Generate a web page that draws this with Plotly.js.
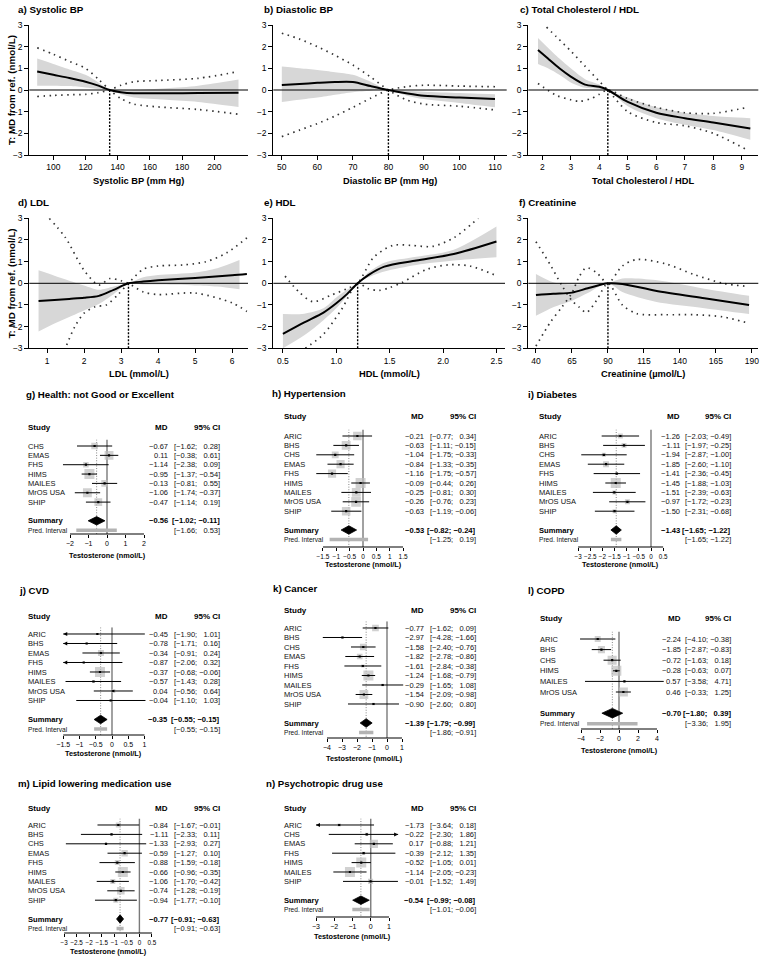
<!DOCTYPE html>
<html>
<head>
<meta charset="utf-8">
<script src="https://cdn.plot.ly/plotly-3.0.1.min.js"></script>
<style>
  body { margin: 0; background: #fff; }
  #grafico { width: 763px; height: 960px; }
</style>
</head>
<body>
<div id="grafico"></div>
<script>
// ---- curvas (a-f): ajuste, banda de confianza y banda de prediccion ----
const sbpX = [90, 100, 110, 120, 128, 135, 142, 150, 170, 190, 215];
const sbpFit = [0.85, 0.7, 0.55, 0.38, 0.2, 0, -0.1, -0.15, -0.15, -0.14, -0.13];
const sbpHi = [1.45, 1.2, 0.95, 0.7, 0.35, 0, -0.02, 0.0, 0.08, 0.2, 0.48];
const sbpLo = [0.2, 0.2, 0.18, 0.12, 0.05, 0, -0.2, -0.35, -0.45, -0.55, -0.78];
const sbpPiX = [90, 100, 110, 120, 128, 135, 142, 150, 165, 190, 215];
const sbpPiA = [1.95, 1.65, 1.32, 1.0, 0.5, 0, -0.4, -0.65, -0.78, -0.9, -1.12];
const sbpPiB = [-0.3, -0.25, -0.22, -0.2, -0.12, 0, 0.22, 0.38, 0.44, 0.54, 0.85];

const dbpX = [50, 55, 60, 65, 70, 75, 80, 85, 90, 100, 110];
const dbpFit = [0.23, 0.28, 0.33, 0.37, 0.37, 0.18, 0, -0.15, -0.27, -0.35, -0.42];
const dbpHi = [1.08, 1.0, 0.92, 0.82, 0.7, 0.38, 0, -0.03, -0.08, -0.14, -0.2];
const dbpLo = [-0.55, -0.45, -0.35, -0.22, -0.1, -0.03, 0, -0.25, -0.42, -0.6, -0.8];
const dbpPiA = [2.62, 2.35, 2.0, 1.6, 1.15, 0.6, 0, -0.45, -0.65, -0.75, -0.92];
const dbpPiB = [-2.15, -1.85, -1.55, -1.2, -0.8, -0.38, 0, 0.15, 0.22, 0.18, 0.15];

const tcX = [1.85, 2.2, 2.6, 3.0, 3.5, 4.0, 4.3, 5.0, 6.0, 7.0, 8.0, 9.3];
const tcFit = [1.85, 1.45, 1.0, 0.62, 0.25, 0.15, 0, -0.55, -1.05, -1.3, -1.5, -1.78];
const tcHi = [2.4, 1.95, 1.45, 1.0, 0.5, 0.25, 0, -0.35, -0.8, -1.05, -1.2, -1.3];
const tcLo = [1.2, 1.0, 0.7, 0.35, 0.1, 0.05, 0, -0.75, -1.3, -1.6, -1.85, -2.3];
const tcPiAX = [2.15, 2.5, 3.0, 3.5, 4.0, 4.3, 5.0, 6.0, 7.0, 8.0, 9.2];
const tcPiA = [2.9, 2.45, 1.8, 1.1, 0.4, 0, -1.0, -1.5, -1.65, -2.0, -2.77];
const tcPiBX = [1.85, 2.5, 3.0, 3.3, 3.7, 4.0, 4.3, 5.0, 6.0, 7.0, 8.0, 9.2];
const tcPiB = [0.3, -0.25, -0.45, -0.52, -0.4, -0.2, 0, -0.4, -0.8, -1.05, -1.08, -0.8];

const ldlX = [0.77, 1.2, 1.6, 2.0, 2.4, 2.8, 3.2, 3.6, 4.0, 5.0, 6.0, 6.4];
const ldlFit = [-0.82, -0.77, -0.72, -0.67, -0.58, -0.3, 0, 0.08, 0.14, 0.25, 0.37, 0.43];
const ldlBandX = [0.77, 1.2, 1.6, 2.0, 2.4, 2.8, 3.2, 3.6, 4.0, 5.0, 5.6, 6.2];
const ldlHi = [0.6, 0.35, 0.12, -0.1, -0.3, -0.15, 0, 0.28, 0.38, 0.5, 0.7, 1.08];
const ldlLo = [-2.22, -1.85, -1.55, -1.25, -0.95, -0.5, 0, -0.05, -0.06, -0.1, -0.15, -0.27];
const ldlPiAX = [1.06, 1.5, 2.0, 2.4, 2.7, 3.0, 3.2, 3.6, 4.0, 5.0, 6.0, 6.4];
const ldlPiA = [3.0, 2.1, 0.6, -0.08, 0.22, 0.12, 0, -0.4, -0.52, -0.45, -0.9, -1.3];
const ldlPiBX = [1.53, 1.75, 2.0, 2.3, 2.6, 2.93, 3.2, 3.6, 4.0, 4.7, 5.3, 5.85, 6.4];
const ldlPiB = [-2.85, -2.0, -1.38, -1.08, -1.0, -0.5, 0, 0.65, 0.8, 0.85, 1.0, 1.4, 2.1];

const hdlX = [0.5, 0.7, 0.88, 1.0, 1.1, 1.2, 1.3, 1.45, 1.75, 2.1, 2.5];
const hdlFit = [-2.33, -1.8, -1.35, -0.92, -0.5, 0, 0.38, 0.77, 1.05, 1.35, 1.93];
const hdlHi = [-1.42, -1.4, -1.15, -0.65, -0.3, 0, 0.5, 0.95, 1.22, 1.55, 2.62];
const hdlLo = [-3.0, -2.4, -1.7, -1.15, -0.6, 0, 0.28, 0.55, 0.85, 1.05, 1.2];
const hdlPiAX = [0.52, 0.65, 0.78, 0.95, 1.1, 1.2, 1.35, 1.53, 1.7, 1.9, 2.1, 2.33];
const hdlPiA = [0.33, -0.4, -0.85, -0.55, -0.25, 0, 1.2, 1.75, 1.75, 1.7, 2.1, 3.0];
const hdlPiBX = [0.71, 0.88, 1.05, 1.2, 1.3, 1.4, 1.5, 1.62, 1.85, 2.05, 2.25, 2.5];
const hdlPiB = [-3.0, -2.35, -1.2, 0, -0.25, -0.33, -0.2, 0.05, 0.65, 0.85, 0.8, 0.35];

const crX = [40, 52, 65, 76, 90, 100, 123, 157, 188];
const crFit = [-0.54, -0.48, -0.43, -0.23, 0, -0.03, -0.34, -0.69, -1.0];
const crHi = [0.43, 0.05, -0.05, -0.03, 0, 0.22, 0.15, -0.25, -0.58];
const crLo = [-1.5, -1.1, -0.8, -0.45, 0, -0.4, -0.85, -1.15, -1.42];
const crPiX = [40, 50, 58, 65, 70, 75, 82, 90, 100, 110, 130, 150, 170, 188];
const crPiA = [1.92, 0.85, -0.1, -0.8, -1.1, -1.35, -0.8, 0, -1.0, -1.4, -1.45, -1.45, -1.55, -1.85];
const crPiB = [-2.9, -1.8, -1.1, -0.45, 0.3, 0.72, 0.5, 0, 0.8, 1.1, 0.9, 0.4, 0.0, -0.15];

// ---- forest plots (g-n) ----
const estG = ['CHS', 'EMAS', 'FHS', 'HIMS', 'MAILES', 'MrOS USA', 'SHIP'];
const mdG = [-0.67, 0.11, -1.14, -0.95, -0.13, -1.06, -0.47];
const loG = [-1.62, -0.38, -2.38, -1.37, -0.81, -1.74, -1.14];
const hiG = [0.28, 0.61, 0.09, -0.54, 0.55, -0.37, 0.19];
const wG = [10, 18, 7, 23, 10, 18, 14];
const sumG = [-0.56, -1.02, -0.11];
const predG = [-1.66, 0.53];

const estH = ['ARIC', 'BHS', 'CHS', 'EMAS', 'FHS', 'HIMS', 'MAILES', 'MrOS USA', 'SHIP'];
const mdH = [-0.21, -0.63, -1.04, -0.84, -1.16, -0.09, -0.25, -0.26, -0.63];
const loH = [-0.77, -1.11, -1.75, -1.33, -1.75, -0.44, -0.81, -0.76, -1.19];
const hiH = [0.34, -0.15, -0.33, -0.35, -0.57, 0.26, 0.30, 0.23, -0.06];
const wH = [11, 12, 7, 10, 10, 15, 12, 14, 11];
const sumH = [-0.53, -0.82, -0.24];
const predH = [-1.25, 0.19];

const estI = ['ARIC', 'BHS', 'CHS', 'EMAS', 'FHS', 'HIMS', 'MAILES', 'MrOS USA', 'SHIP'];
const mdI = [-1.26, -1.11, -1.94, -1.85, -1.41, -1.45, -1.51, -0.97, -1.50];
const loI = [-2.03, -1.97, -2.87, -2.60, -2.36, -1.88, -2.39, -1.72, -2.31];
const hiI = [-0.49, -0.25, -1.00, -1.10, -0.45, -1.03, -0.63, -0.23, -0.68];
const wI = [9, 9, 6, 13, 3, 37, 6, 9, 6];
const sumI = [-1.43, -1.65, -1.22];
const predI = [-1.65, -1.22];

const estJ = ['ARIC', 'BHS', 'EMAS', 'FHS', 'HIMS', 'MAILES', 'MrOS USA', 'SHIP'];
const mdJ = [-0.45, -0.78, -0.34, -0.87, -0.37, -0.57, 0.04, -0.04];
const loJ = [-1.90, -1.71, -0.91, -2.06, -0.68, -1.43, -0.56, -1.10];
const hiJ = [1.01, 0.16, 0.24, 0.32, -0.06, 0.28, 0.64, 1.03];
const wJ = [2, 2, 20, 2, 56, 5, 9, 2];
const sumJ = [-0.35, -0.55, -0.15];
const predJ = [-0.55, -0.15];

const estK = ['ARIC', 'BHS', 'CHS', 'EMAS', 'FHS', 'HIMS', 'MAILES', 'MrOS USA', 'SHIP'];
const mdK = [-0.77, -2.97, -1.58, -1.82, -1.61, -1.24, -0.29, -1.54, -0.90];
const loK = [-1.62, -4.28, -2.40, -2.78, -2.84, -1.68, -1.65, -2.09, -2.60];
const hiK = [0.09, -1.66, -0.76, -0.86, -0.38, -0.79, 1.08, -0.98, 0.80];
const wK = [14, 2, 14, 10, 3, 31, 2, 24, 2];
const sumK = [-1.39, -1.79, -0.99];
const predK = [-1.86, -0.91];

const estL = ['ARIC', 'BHS', 'CHS', 'HIMS', 'MAILES', 'MrOS USA'];
const mdL = [-2.24, -1.85, -0.72, -0.28, 0.57, 0.46];
const loL = [-4.10, -2.87, -1.63, -0.63, -3.58, -0.33];
const hiL = [-0.38, -0.83, 0.18, 0.07, 4.71, 1.25];
const wL = [10, 14, 23, 28, 1, 23];
const sumL = [-0.70, -1.80, 0.39];
const predL = [-3.36, 1.95];

const estM = ['ARIC', 'BHS', 'CHS', 'EMAS', 'FHS', 'HIMS', 'MAILES', 'MrOS USA', 'SHIP'];
const mdM = [-0.84, -1.11, -1.33, -0.59, -0.88, -0.66, -1.06, -0.74, -0.94];
const loM = [-1.67, -2.33, -2.93, -1.27, -1.59, -0.96, -1.70, -1.28, -1.77];
const hiM = [-0.01, 0.11, 0.27, 0.10, -0.18, -0.35, -0.42, -0.19, -0.10];
const wM = [8, 2, 2, 13, 8, 32, 8, 18, 8];
const sumM = [-0.77, -0.91, -0.63];
const predM = [-0.91, -0.63];

const estN = ['ARIC', 'CHS', 'EMAS', 'FHS', 'HIMS', 'MAILES', 'SHIP'];
const mdN = [-1.73, -0.22, 0.17, -0.39, -0.52, -1.14, -0.01];
const loN = [-3.64, -2.30, -0.88, -2.12, -1.05, -2.05, -1.52];
const hiN = [0.18, 1.86, 1.21, 1.35, 0.01, -0.23, 1.49];
const wN = [3, 3, 21, 3, 31, 31, 8];
const sumN = [-0.54, -0.99, -0.08];
const predN = [-1.01, -0.06];

// ---- ayudas ----
const W = 763, H = 960;
const FUENTE = 'Liberation Sans, Arial, Helvetica, sans-serif';
const px = v => v / W;
const py = v => 1 - v / H;
const menos = v => (v < 0 ? '\u2212' : '') + Math.abs(v).toFixed(2);

let trazos = [];
let layout = {
  width: W, height: H,
  margin: { l: 0, r: 0, t: 0, b: 0 },
  showlegend: false,
  paper_bgcolor: '#fff',
  plot_bgcolor: 'rgba(0,0,0,0)',
  font: { family: FUENTE, color: '#000' },
  annotations: [],
  shapes: []
};

function texto(t, x, y, opts) {
  layout.annotations.push(Object.assign({
    text: t, x: x, y: y, xref: 'paper', yref: 'paper',
    showarrow: false, xanchor: 'left', yanchor: 'middle', borderpad: 0,
    font: { size: 8, family: FUENTE, color: '#000' }
  }, opts || {}));
}

// panel de curva
function panelCurva(k, p) {
  const xa = 'x' + k, ya = 'y' + k;
  const suave = { shape: 'spline', smoothing: 0.8 };
  trazos.push({ x: p.bx, y: p.lo, xaxis: xa, yaxis: ya, mode: 'lines',
    line: Object.assign({ width: 0, color: 'rgba(0,0,0,0)' }, suave), hoverinfo: 'skip' });
  trazos.push({ x: p.bx, y: p.hi, xaxis: xa, yaxis: ya, mode: 'lines', fill: 'tonexty',
    fillcolor: '#d7d7d7', line: Object.assign({ width: 0, color: 'rgba(0,0,0,0)' }, suave), hoverinfo: 'skip' });
  [[p.pax, p.pa], [p.pbx, p.pb]].forEach(par => {
    trazos.push({ x: par[0], y: par[1], xaxis: xa, yaxis: ya, mode: 'lines',
      line: Object.assign({ width: 1.7, color: '#333', dash: '1.5px,4.5px' }, suave) });
  });
  trazos.push({ x: p.x, y: p.fit, xaxis: xa, yaxis: ya, mode: 'lines',
    line: Object.assign({ width: 2, color: '#000' }, suave) });

  // linea cero y linea de referencia
  layout.shapes.push({ type: 'line', xref: xa + ' domain', yref: ya, x0: 0, x1: 1, y0: 0, y1: 0,
    line: { color: '#000', width: 1 }, layer: 'above' });
  layout.shapes.push({ type: 'line', xref: xa, yref: ya, x0: p.ref, x1: p.ref, y0: -3, y1: 0,
    line: { color: '#000', width: 1.4, dash: '2px,1.5px' }, layer: 'above' });

  const eje = {
    showline: true, linecolor: '#000', linewidth: 1, ticks: 'outside', ticklen: 4, tickwidth: 1,
    tickcolor: '#000', showgrid: false, zeroline: false, tickangle: 0,
    tickfont: { size: 8.5, family: FUENTE }
  };
  layout['xaxis' + k] = Object.assign({}, eje, {
    domain: [px(p.x0), px(p.x1)], range: p.range, tickvals: p.ticks, anchor: ya,
    tickformat: p.fmt || ''
  });
  layout['yaxis' + k] = Object.assign({}, eje, {
    domain: [py(p.yBot), py(p.yTop)], range: [-3, 3], tickvals: [-3, -2, -1, 0, 1, 2, 3], anchor: xa
  });
  texto('<b>' + p.title + '</b>', px(p.tx), py(p.ty), { font: { size: 9.8, family: FUENTE } });
  texto('<b>' + p.xtitle + '</b>', px((p.x0 + p.x1) / 2), py(p.yBot + 26),
    { xanchor: 'center', font: { size: 9.3, family: FUENTE } });
  if (p.ytitle) {
    texto('<b>T: MD from ref. (nmol/L)</b>', px(11), py((p.yTop + p.yBot) / 2),
      { xanchor: 'center', textangle: -90, font: { size: 9.8, family: FUENTE } });
  }
}

// panel forest
function panelForest(k, f) {
  const xa = 'x' + k, ya = 'y' + k;
  const n = f.est.length;
  const filaSum = n + 1, filaPred = n + 2;
  const filaTop = -0.7;
  const filaBot = (f.axisY - f.row0) / f.rowH;
  const cLo = f.clip ? f.clip[0] : -Infinity, cHi = f.clip ? f.clip[1] : Infinity;
  const los = f.lo.map(v => Math.max(v, cLo));
  const his = f.hi.map(v => Math.min(v, cHi));
  const pad = 5 / f.ppu;
  const xmin = Math.min(f.ticks[0], ...los, f.pred[0], f.sum[1]) - pad;
  const xmax = Math.max(f.ticks[f.ticks.length - 1], ...his, f.pred[1], f.sum[2]) + pad;
  const filas = f.est.map((_, i) => i);
  const wmax = Math.max(...f.w);

  // linea vertical en 0 y en el resumen
  trazos.push({ x: [0, 0], y: [filaTop, filaBot], xaxis: xa, yaxis: ya, mode: 'lines',
    line: { color: '#7a7a7a', width: 1.4 }, hoverinfo: 'skip' });
  trazos.push({ x: [f.sum[0], f.sum[0]], y: [filaTop, filaBot], xaxis: xa, yaxis: ya, mode: 'lines',
    line: { color: '#777', width: 0.9, dash: '1px,1.6px' }, hoverinfo: 'skip' });
  // intervalo de prediccion
  trazos.push({ x: f.pred, y: [filaPred, filaPred], xaxis: xa, yaxis: ya, mode: 'lines',
    line: { color: '#b3b3b3', width: 3.5 } });
  // cuadros por peso
  trazos.push({ x: f.md, y: filas, xaxis: xa, yaxis: ya, mode: 'markers',
    marker: { symbol: 'square', color: '#bdbdbd', size: f.w.map(w => 10 * Math.sqrt(w / wmax)), line: { width: 0 } } });
  // intervalos de confianza
  let cx = [], cy = [];
  filas.forEach(i => { cx.push(los[i], his[i], null); cy.push(i, i, null); });
  trazos.push({ x: cx, y: cy, xaxis: xa, yaxis: ya, mode: 'lines', line: { color: '#000', width: 1 } });
  trazos.push({ x: f.md, y: filas, xaxis: xa, yaxis: ya, mode: 'markers',
    marker: { symbol: 'square', color: '#000', size: 2.2 } });
  // flechas cuando el IC sale del eje
  let ax = [], ay = [], as = [];
  filas.forEach(i => {
    if (f.lo[i] < cLo) { ax.push(cLo); ay.push(i); as.push('arrow-left'); }
    if (f.hi[i] > cHi) { ax.push(cHi); ay.push(i); as.push('arrow-right'); }
  });
  if (ax.length) {
    trazos.push({ x: ax, y: ay, xaxis: xa, yaxis: ya, mode: 'markers', cliponaxis: false,
      marker: { symbol: as, color: '#000', size: 4 } });
  }
  // rombo del resumen
  trazos.push({ x: [f.sum[1], f.sum[0], f.sum[2], f.sum[0], f.sum[1]],
    y: [filaSum, filaSum - 0.45, filaSum, filaSum + 0.45, filaSum],
    xaxis: xa, yaxis: ya, mode: 'lines', fill: 'toself', fillcolor: '#000', line: { color: '#000', width: 0.8 } });

  layout['xaxis' + k] = {
    domain: [px(f.zero + xmin * f.ppu), px(f.zero + xmax * f.ppu)], range: [xmin, xmax], anchor: ya,
    tickvals: f.ticks, ticks: 'outside', ticklen: 3, tickwidth: 1, tickcolor: '#000', tickangle: 0,
    showline: false, showgrid: false, zeroline: false, tickfont: { size: f.tickSize || 7, family: FUENTE }
  };
  layout['yaxis' + k] = {
    domain: [py(f.axisY), py(f.row0 + filaTop * f.rowH)], range: [filaBot, filaTop], anchor: xa,
    visible: false, showgrid: false, zeroline: false
  };
  layout.shapes.push({ type: 'line', xref: xa, yref: ya + ' domain', x0: f.ticks[0], x1: f.ticks[f.ticks.length - 1],
    y0: 0, y1: 0, line: { color: '#000', width: 1 } });

  // textos
  const base = { font: { size: 7.5, family: FUENTE, color: '#111' } };
  texto('<b>' + f.title + '</b>', px(f.tx), py(f.ty), { font: { size: 9.7, family: FUENTE } });
  const cab = { font: { size: 8, family: FUENTE } };
  texto('<b>Study</b>', px(f.sx), py(f.headY), cab);
  texto('<b>MD</b>', px(f.mdx), py(f.headY), Object.assign({ xanchor: 'right' }, cab));
  texto('<b>95% CI</b>', px(f.cix), py(f.headY), Object.assign({ xanchor: 'right' }, cab));
  const ic = (a, b) => '[' + menos(a) + '; ' + (b < 0 ? '' : '\u2007') + menos(b) + ']';
  filas.forEach(i => {
    const o = Object.assign({ yref: ya }, base);
    texto(f.est[i], px(f.sx), i, o);
    texto(menos(f.md[i]), px(f.mdx), i, Object.assign({ xanchor: 'right' }, o));
    texto(ic(f.lo[i], f.hi[i]), px(f.cix), i, Object.assign({ xanchor: 'right' }, o));
  });
  const ob = { yref: ya, font: { size: 7.6, family: FUENTE, color: '#000' } };
  texto('<b>Summary</b>', px(f.sx), filaSum, ob);
  texto('<b>' + menos(f.sum[0]) + '</b>', px(f.mdx), filaSum, Object.assign({ xanchor: 'right' }, ob));
  texto('<b>' + ic(f.sum[1], f.sum[2]) + '</b>', px(f.cix), filaSum, Object.assign({ xanchor: 'right' }, ob));
  texto('Pred. Interval', px(f.sx), filaPred, { yref: ya, font: { size: 6.6, family: FUENTE, color: '#111' } });
  texto(ic(f.pred[0], f.pred[1]), px(f.cix), filaPred, Object.assign({ xanchor: 'right' }, base, { yref: ya }));
  texto('<b>Testosterone (nmol/L)</b>', (f.ticks[0] + f.ticks[f.ticks.length - 1]) / 2, py(f.axTitleY),
    { xref: xa, xanchor: 'center', font: { size: 7.3, family: FUENTE } });
}

// ---- paneles ----
panelCurva(1, { title: 'a) Systolic BP', tx: 17, ty: 10, xtitle: 'Systolic BP (mm Hg)', ytitle: true,
  x: sbpX, fit: sbpFit, bx: sbpX, lo: sbpLo, hi: sbpHi, pax: sbpPiX, pa: sbpPiA, pbx: sbpPiX, pb: sbpPiB, ref: 135,
  x0: 29.3, x1: 248, yTop: 25, yBot: 155, range: [85.1, 220.9], ticks: [100, 120, 140, 160, 180, 200] });
panelCurva(2, { title: 'b) Diastolic BP', tx: 263, ty: 10, xtitle: 'Diastolic BP (mm Hg)',
  x: dbpX, fit: dbpFit, bx: dbpX, lo: dbpLo, hi: dbpHi, pax: dbpX, pa: dbpPiA, pbx: dbpX, pb: dbpPiB, ref: 80,
  x0: 273.3, x1: 506.7, yTop: 25, yBot: 155, range: [47.6, 113.3], ticks: [50, 60, 70, 80, 90, 100, 110] });
panelCurva(3, { title: 'c) Total Cholesterol / HDL', tx: 519, ty: 10, xtitle: 'Total Cholesterol / HDL',
  x: tcX, fit: tcFit, bx: tcX, lo: tcLo, hi: tcHi, pax: tcPiAX, pa: tcPiA, pbx: tcPiBX, pb: tcPiB, ref: 4.3,
  x0: 528.3, x1: 758.3, yTop: 25, yBot: 155, range: [1.51, 9.58], ticks: [2, 3, 4, 5, 6, 7, 8, 9] });
panelCurva(4, { title: 'd) LDL', tx: 17, ty: 203, xtitle: 'LDL (mmol/L)', ytitle: true,
  x: ldlX, fit: ldlFit, bx: ldlBandX, lo: ldlLo, hi: ldlHi, pax: ldlPiAX, pa: ldlPiA, pbx: ldlPiBX, pb: ldlPiB, ref: 3.2,
  x0: 29.3, x1: 248, yTop: 218.3, yBot: 348.3, range: [0.52, 6.43], ticks: [1, 2, 3, 4, 5, 6] });
panelCurva(5, { title: 'e) HDL', tx: 263, ty: 203, xtitle: 'HDL (mmol/L)',
  x: hdlX, fit: hdlFit, bx: hdlX, lo: hdlLo, hi: hdlHi, pax: hdlPiAX, pa: hdlPiA, pbx: hdlPiBX, pb: hdlPiB, ref: 1.2,
  x0: 273.3, x1: 505, yTop: 218.3, yBot: 348.3, range: [0.41, 2.58], ticks: [0.5, 1.0, 1.5, 2.0, 2.5], fmt: '.1f' });
panelCurva(6, { title: 'f) Creatinine', tx: 518, ty: 203, xtitle: 'Creatinine (\u00b5mol/L)',
  x: crX, fit: crFit, bx: crX, lo: crLo, hi: crHi, pax: crPiX, pa: crPiA, pbx: crPiX, pb: crPiB, ref: 90,
  x0: 528.3, x1: 758.3, yTop: 218.3, yBot: 348.3, range: [34.7, 194.4], ticks: [40, 65, 90, 115, 140, 165, 190] });

panelForest(7, { title: 'g) Health: not Good or Excellent', tx: 25, ty: 395, headY: 427, row0: 446, rowH: 9.35,
  axisY: 534, zero: 107, ppu: 18.5, sx: 27, mdx: 169, cix: 221, ticks: [-2, -1, 0, 1, 2], axTitleY: 555,
  est: estG, md: mdG, lo: loG, hi: hiG, w: wG, sum: sumG, pred: predG });
panelForest(8, { title: 'h) Hypertension', tx: 271, ty: 393, headY: 417, row0: 436, rowH: 9.4,
  axisY: 547, zero: 363, ppu: 26.7, sx: 283, mdx: 425, cix: 477, ticks: [-1.5, -1, -0.5, 0, 0.5, 1, 1.5], axTitleY: 564,
  tickSize: 6.5, est: estH, md: mdH, lo: loH, hi: hiH, w: wH, sum: sumH, pred: predH });
panelForest(9, { title: 'i) Diabetes', tx: 527, ty: 395, headY: 417, row0: 436, rowH: 9.4,
  axisY: 547, zero: 651, ppu: 24.3, sx: 538, mdx: 681, cix: 732, ticks: [-3, -2.5, -2, -1.5, -1, -0.5, 0, 0.5], axTitleY: 564,
  tickSize: 6.3, est: estI, md: mdI, lo: loI, hi: hiI, w: wI, sum: sumI, pred: predI });
panelForest(10, { title: 'j) CVD', tx: 18, ty: 590, headY: 616, row0: 634, rowH: 9.5,
  axisY: 735, zero: 112, ppu: 32.5, sx: 27, mdx: 169, cix: 221, ticks: [-1.5, -1, -0.5, 0, 0.5, 1], axTitleY: 753, clip: [-1.5, 1.05],
  est: estJ, md: mdJ, lo: loJ, hi: hiJ, w: wJ, sum: sumJ, pred: predJ });
panelForest(11, { title: 'k) Cancer', tx: 272, ty: 588, headY: 610, row0: 628, rowH: 9.5,
  axisY: 738, zero: 387, ppu: 15, sx: 283, mdx: 425, cix: 477, ticks: [-4, -3, -2, -1, 0, 1], axTitleY: 758,
  est: estK, md: mdK, lo: loK, hi: hiK, w: wK, sum: sumK, pred: predK });
panelForest(12, { title: 'l) COPD', tx: 527, ty: 590, headY: 618, row0: 639, rowH: 10.6,
  axisY: 729, zero: 619, ppu: 9.5, sx: 539, mdx: 682, cix: 732, ticks: [-4, -2, 0, 2, 4], axTitleY: 750,
  est: estL, md: mdL, lo: loL, hi: hiL, w: wL, sum: sumL, pred: predL });
panelForest(13, { title: 'm) Lipid lowering medication use', tx: 17, ty: 783, headY: 808, row0: 825, rowH: 9.4,
  axisY: 933, zero: 139.4, ppu: 25.1, sx: 27, mdx: 169, cix: 221, ticks: [-3, -2.5, -2, -1.5, -1, -0.5, 0, 0.5], axTitleY: 951,
  tickSize: 6.3, est: estM, md: mdM, lo: loM, hi: hiM, w: wM, sum: sumM, pred: predM });
panelForest(14, { title: 'n) Psychotropic drug use', tx: 265, ty: 783, headY: 808, row0: 825, rowH: 9.4,
  axisY: 917, zero: 370.75, ppu: 18.25, sx: 283, mdx: 425, cix: 477, ticks: [-3, -2, -1, 0, 1], axTitleY: 936, clip: [-3, 1.5],
  est: estN, md: mdN, lo: loN, hi: hiN, w: wN, sum: sumN, pred: predN });

Plotly.newPlot('grafico', trazos, layout, { staticPlot: true, displayModeBar: false });
</script>
</body>
</html>
